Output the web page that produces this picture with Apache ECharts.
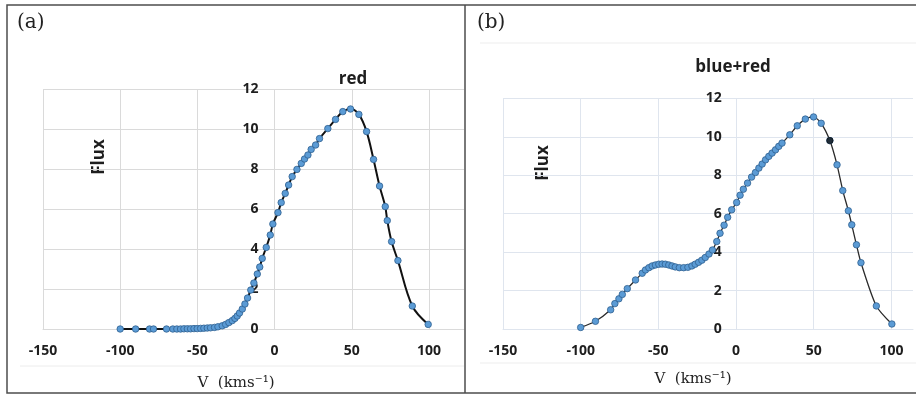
<!DOCTYPE html>
<html>
<head>
<meta charset="utf-8">
<script src="https://cdn.jsdelivr.net/npm/echarts@6/dist/echarts.min.js"></script>
<style>
html,body{margin:0;padding:0;background:#fff;}
#c{width:916px;height:394px;}
</style>
</head>
<body>
<div id="c"></div>
<script>
// ---- data ----
const redV = [-100,-90,-81,-78.4,-70,-65.9,-63.3,-60.9,-58.7,-56.5,-54.4,-52.2,-50.1,-47.9,-45.8,-43.6,-41.5,-38.9,-36.7,-33.9,-31.7,-29.6,-27.4,-25.7,-24.2,-22.7,-20.9,-19.2,-17.5,-15.4,-13.4,-11.2,-9.6,-8,-5.4,-2.8,-1.1,2.2,4.3,6.9,9.1,11.4,14.5,17.3,19.4,21.6,23.7,26.6,29.1,34.5,39.5,44.2,49.2,54.6,59.6,64.1,68,71.7,73,75.8,79.9,89.2,99.5];
const redFlux = [0,0,0,0,0,0,0,0,0.01,0.01,0.01,0.02,0.02,0.03,0.04,0.05,0.06,0.08,0.11,0.16,0.23,0.32,0.42,0.53,0.65,0.8,1.0,1.25,1.55,1.95,2.3,2.75,3.1,3.53,4.08,4.7,5.25,5.82,6.32,6.78,7.2,7.62,7.98,8.28,8.5,8.7,8.98,9.2,9.52,10.02,10.48,10.87,11.0,10.73,9.87,8.48,7.15,6.12,5.42,4.37,3.42,1.15,0.23];

const blueRedV = [-100,-90.5,-80.7,-78,-75.4,-73.2,-70,-64.7,-60.4,-58.3,-56.1,-54,-51.9,-49.7,-47.6,-45.5,-43.3,-41.2,-39.1,-36.5,-33.7,-31,-28.4,-26.3,-24.1,-22,-19.8,-17.4,-15.2,-12.4,-10.3,-7.7,-5.4,-2.8,0.4,2.6,4.7,7.4,10,12.5,14.7,16.8,19,21.1,23.2,25.4,27.5,29.6,34.6,39.4,44.6,49.9,54.8,60.4,65,68.7,72.3,74.5,77.5,80.4,90.3,100.3];
const blueRedFlux = [0.08,0.4,1.0,1.32,1.57,1.8,2.1,2.55,2.9,3.07,3.19,3.28,3.33,3.37,3.38,3.37,3.33,3.28,3.23,3.19,3.19,3.21,3.28,3.37,3.47,3.58,3.72,3.9,4.11,4.55,4.98,5.4,5.81,6.2,6.58,6.96,7.27,7.59,7.9,8.14,8.37,8.58,8.8,8.98,9.15,9.32,9.5,9.67,10.1,10.57,10.92,11.03,10.7,9.8,8.54,7.2,6.15,5.42,4.38,3.45,1.2,0.26];
const highlightV = 60.4;   // the single black marker in panel (b)

const xTickLabels = [-150,-100,-50,0,50,100];
const yTickLabels = [0,2,4,6,8,10,12];
const panelTitles = ['red','blue+red'];
const panelTags = ['(a)','(b)'];
const yName = 'Flux';
const xName = 'V  (kms\u207B\u00B9)';

// ---- chart ----
const pairs = (xs, ys) => xs.map((v, i) => [v, ys[i]]);
const hiIdx = blueRedV.indexOf(highlightV);

const labelFont = {fontFamily: '"Open Sans", Lato, sans-serif', fontWeight: 'bold', fontSize: 14, color: '#1e1e1e'};

const grids = [
  {left: 43, top: 89, width: 421, height: 240, xMin: -150, xMax: 122.7, color: '#dadada'},
  {left: 503, top: 98.3, width: 413, height: 230.7, xMin: -150, xMax: 113.9, color: '#dfe5ee'}
];

function xAxisCfg(gi) {
  const g = grids[gi];
  return {
    type: 'value', gridIndex: gi, min: g.xMin, max: g.xMax, interval: 50,
    axisLine: {show: true, onZero: false, lineStyle: {color: g.color, width: 1}}, axisTick: {show: false},
    axisLabel: Object.assign({margin: 15, formatter: v => xTickLabels.indexOf(v) >= 0 ? String(v) : ''}, labelFont),
    splitLine: {show: true, showMaxLine: false, lineStyle: {color: g.color, width: 1}}
  };
}
function yAxisCfg(gi) {
  const g = grids[gi];
  // y axis crosses the x axis at V = 0: shift it inward from the grid's left edge
  const zeroShift = (0 - g.xMin) / (g.xMax - g.xMin) * g.width;
  return {
    type: 'value', gridIndex: gi, min: 0, max: 12, interval: 2,
    position: 'left', offset: -zeroShift,
    axisLine: {show: false, onZero: false}, axisTick: {show: false},
    axisLabel: Object.assign({margin: 16, formatter: v => yTickLabels.indexOf(v) >= 0 ? String(v) : ''}, labelFont),
    splitLine: {show: true, lineStyle: {color: g.color, width: 1}}
  };
}

const markerStyle = {color: '#5b9bd5', borderColor: '#2f5f8f', borderWidth: 0.8};
const titleFont = '"Open Sans", Lato, sans-serif';
const serif = '"DejaVu Serif", serif';

const chart = echarts.init(document.getElementById('c'), null, {renderer: 'canvas'});
chart.setOption({
  animation: false,
  backgroundColor: '#fff',
  grid: grids.map(g => ({left: g.left, top: g.top, width: g.width, height: g.height})),
  xAxis: [xAxisCfg(0), xAxisCfg(1)],
  yAxis: [yAxisCfg(0), yAxisCfg(1)],
  series: [
    {
      type: 'line', xAxisIndex: 0, yAxisIndex: 0, data: pairs(redV, redFlux),
      smooth: 0.35, symbol: 'circle', symbolSize: 6.5, showAllSymbol: true,
      lineStyle: {color: '#111', width: 2}, itemStyle: markerStyle, z: 3
    },
    {
      type: 'line', xAxisIndex: 1, yAxisIndex: 1, data: pairs(blueRedV, blueRedFlux),
      smooth: 0.25, symbol: 'circle', symbolSize: 6.5, showAllSymbol: true,
      lineStyle: {color: '#2a2a2a', width: 1.3}, itemStyle: markerStyle, z: 3
    },
    {
      type: 'scatter', xAxisIndex: 1, yAxisIndex: 1,
      data: [[blueRedV[hiIdx], blueRedFlux[hiIdx]]],
      symbol: 'circle', symbolSize: 6.5, itemStyle: {color: '#111', borderColor: '#000', borderWidth: 0.5}, z: 5
    }
  ],
  graphic: [
    {type: 'line', shape: {x1: 20, y1: 366, x2: 464, y2: 366}, style: {stroke: '#ececec', lineWidth: 1}, silent: true},
    {type: 'line', shape: {x1: 480, y1: 43, x2: 916, y2: 43}, style: {stroke: '#ededed', lineWidth: 1}, silent: true},
    {type: 'line', shape: {x1: 480, y1: 363, x2: 916, y2: 363}, style: {stroke: '#ededed', lineWidth: 1}, silent: true},
    {type: 'rect', shape: {x: 7, y: 5, width: 915, height: 388}, style: {fill: null, stroke: '#4d4d4d', lineWidth: 1.5}, silent: true, z: 10},
    {type: 'line', shape: {x1: 465, y1: 5, x2: 465, y2: 393}, style: {stroke: '#4d4d4d', lineWidth: 1.5}, silent: true, z: 10},
    {type: 'text', x: 17, y: 23, style: {text: panelTags[0], font: '20px ' + serif, fill: '#222', verticalAlign: 'middle'}},
    {type: 'text', x: 477, y: 23, style: {text: panelTags[1], font: '20px ' + serif, fill: '#222', verticalAlign: 'middle'}},
    {type: 'text', x: 353, y: 79, style: {text: panelTitles[0], font: 'bold 17px ' + titleFont, fill: '#1e1e1e', align: 'center', verticalAlign: 'middle'}},
    {type: 'text', x: 733, y: 67, style: {text: panelTitles[1], font: 'bold 17px ' + titleFont, fill: '#1e1e1e', align: 'center', verticalAlign: 'middle'}},
    {type: 'text', x: 99, y: 157, rotation: Math.PI / 2, style: {text: yName, font: 'bold 17px ' + titleFont, fill: '#1e1e1e', align: 'center', verticalAlign: 'middle'}},
    {type: 'text', x: 543, y: 163, rotation: Math.PI / 2, style: {text: yName, font: 'bold 17px ' + titleFont, fill: '#1e1e1e', align: 'center', verticalAlign: 'middle'}},
    {type: 'text', x: 236, y: 383, style: {text: xName, font: '15px ' + serif, fill: '#222', align: 'center', verticalAlign: 'middle'}},
    {type: 'text', x: 693, y: 379, style: {text: xName, font: '15px ' + serif, fill: '#222', align: 'center', verticalAlign: 'middle'}}
  ]
});
</script>
</body>
</html>
